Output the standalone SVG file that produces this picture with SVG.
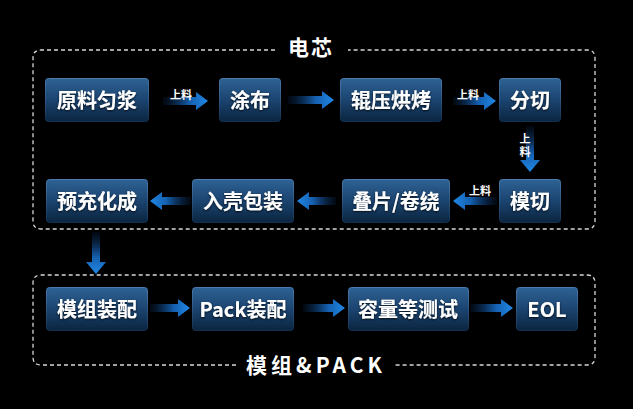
<svg xmlns="http://www.w3.org/2000/svg" width="633" height="409" viewBox="0 0 633 409">
<defs>
<linearGradient id="boxg" x1="0" y1="0" x2="0" y2="1">
<stop offset="0" stop-color="#2e6294"/>
<stop offset="0.5" stop-color="#1b4470"/>
<stop offset="1" stop-color="#0b2540"/>
</linearGradient>
<linearGradient id="boxs" x1="0" y1="0" x2="0" y2="1">
<stop offset="0" stop-color="#4a7cae"/>
<stop offset="1" stop-color="#12304f"/>
</linearGradient>
<linearGradient id="ar" x1="0" y1="0" x2="1" y2="0">
<stop offset="0" stop-color="#0a2a52" stop-opacity="0.2"/>
<stop offset="0.6" stop-color="#1560b0"/>
<stop offset="1" stop-color="#2088e6"/>
</linearGradient>
<linearGradient id="al" x1="1" y1="0" x2="0" y2="0">
<stop offset="0" stop-color="#0a2a52" stop-opacity="0.2"/>
<stop offset="0.6" stop-color="#1560b0"/>
<stop offset="1" stop-color="#2088e6"/>
</linearGradient>
<linearGradient id="ad" x1="0" y1="0" x2="0" y2="1">
<stop offset="0" stop-color="#0a2a52" stop-opacity="0.2"/>
<stop offset="0.6" stop-color="#1560b0"/>
<stop offset="1" stop-color="#2088e6"/>
</linearGradient>
<filter id="sh" x="-10%" y="-10%" width="120%" height="130%">
<feDropShadow dx="0" dy="1" stdDeviation="0.8" flood-color="#000" flood-opacity="0.8"/>
</filter>
</defs>
<style>
.box{fill:url(#boxg);stroke:url(#boxs);stroke-width:1}
.t{font-family:"Noto Sans CJK SC","Noto Sans",sans-serif;font-weight:bold;font-size:20px;fill:#ffffff;text-anchor:middle;filter:url(#sh)}
.lbl{font-family:"Noto Sans CJK SC","Noto Sans",sans-serif;font-weight:bold;font-size:11px;fill:#ffffff;text-anchor:middle}
.vlbl{font-family:"Noto Sans CJK SC","Noto Sans",sans-serif;font-weight:bold;font-size:11px;fill:#ffffff;writing-mode:vertical-rl;letter-spacing:2px}
.ttl{font-family:"Noto Sans CJK SC","Noto Sans",sans-serif;font-weight:bold;font-size:21px;fill:#ffffff;text-anchor:middle}
.dash{fill:none;stroke:#d8d8d8;stroke-width:1.3;stroke-dasharray:4 3}
</style>
<rect width="633" height="409" fill="#000"/>

<g id="groups">
<path class="dash" d="M275,50 H41 Q33,50 33,58 V221 Q33,229 41,229 H587 Q595,229 595,221 V58 Q595,50 587,50 H348"/>
<text class="ttl" x="311" y="55" letter-spacing="2">电芯</text>
<path class="dash" d="M236,365 H41 Q33,365 33,357 V283 Q33,275 41,275 H587 Q595,275 595,283 V357 Q595,365 587,365 H393"/>
<text class="ttl" x="316" y="373" letter-spacing="4">模组&amp;PACK</text>
</g>

<g id="connectors">
<path d="M163,97 H196 V92 L208,101 L196,110 V105 H163 Z" fill="url(#ar)"/>
<text class="lbl" x="181" y="99">上料</text>
<path d="M288,96 H322 V91 L334,100 L322,109 V104 H288 Z" fill="url(#ar)"/>
<path d="M453,97 H484 V92 L496,101 L484,110 V105 H453 Z" fill="url(#ar)"/>
<text class="lbl" x="468" y="99">上料</text>
<path d="M526,126 V160 H520 L530,172 L540,160 H534 V126 Z" fill="url(#ad)"/>
<text class="vlbl" x="525" y="133">上料</text>
<path d="M497,197 H465 V192 L453,201 L465,210 V205 H497 Z" fill="url(#al)"/>
<text class="lbl" x="480" y="195">上料</text>
<path d="M336,197 H309 V192 L297,201 L309,210 V205 H336 Z" fill="url(#al)"/>
<path d="M191,197 H162 V192 L150,201 L162,210 V205 H191 Z" fill="url(#al)"/>
<path d="M92,232 V262 H86 L96,274 L106,262 H100 V232 Z" fill="url(#ad)"/>
<path d="M150,304 H178 V299 L190,308 L178,317 V312 H150 Z" fill="url(#ar)"/>
<path d="M303,304 H333 V299 L345,308 L333,317 V312 H303 Z" fill="url(#ar)"/>
<path d="M470,304 H501 V299 L513,308 L501,317 V312 H470 Z" fill="url(#ar)"/>
</g>

<g id="n1"><rect class="box" x="45.5" y="78.5" width="103" height="43" rx="3"/><text class="t" x="97" y="107.5">原料匀浆</text></g>
<g id="n2"><rect class="box" x="219.5" y="78.5" width="61" height="43" rx="3"/><text class="t" x="250" y="107.5">涂布</text></g>
<g id="n3"><rect class="box" x="340.5" y="78.5" width="101" height="43" rx="3"/><text class="t" x="391" y="107.5">辊压烘烤</text></g>
<g id="n4"><rect class="box" x="499.5" y="78.5" width="61" height="43" rx="3"/><text class="t" x="530" y="107.5">分切</text></g>
<g id="n5"><rect class="box" x="499.5" y="179.5" width="61" height="43" rx="3"/><text class="t" x="530" y="208.5">模切</text></g>
<g id="n6"><rect class="box" x="342.5" y="179.5" width="107" height="43" rx="3"/><text class="t" x="396" y="208.5">叠片/卷绕</text></g>
<g id="n7"><rect class="box" x="192.5" y="179.5" width="101" height="43" rx="3"/><text class="t" x="243" y="208.5">入壳包装</text></g>
<g id="n8"><rect class="box" x="46.5" y="179.5" width="101" height="43" rx="3"/><text class="t" x="97" y="208.5">预充化成</text></g>
<g id="n9"><rect class="box" x="46.5" y="287.5" width="101" height="43" rx="3"/><text class="t" x="97" y="316.5">模组装配</text></g>
<g id="n10"><rect class="box" x="192.5" y="287.5" width="101" height="43" rx="3"/><text class="t" x="243" y="316.5">Pack装配</text></g>
<g id="n11"><rect class="box" x="348.5" y="287.5" width="120" height="43" rx="3"/><text class="t" x="408" y="316.5">容量等测试</text></g>
<g id="n12"><rect class="box" x="516.5" y="287.5" width="61" height="43" rx="3"/><text class="t" x="547" y="316.5">EOL</text></g>
</svg>
